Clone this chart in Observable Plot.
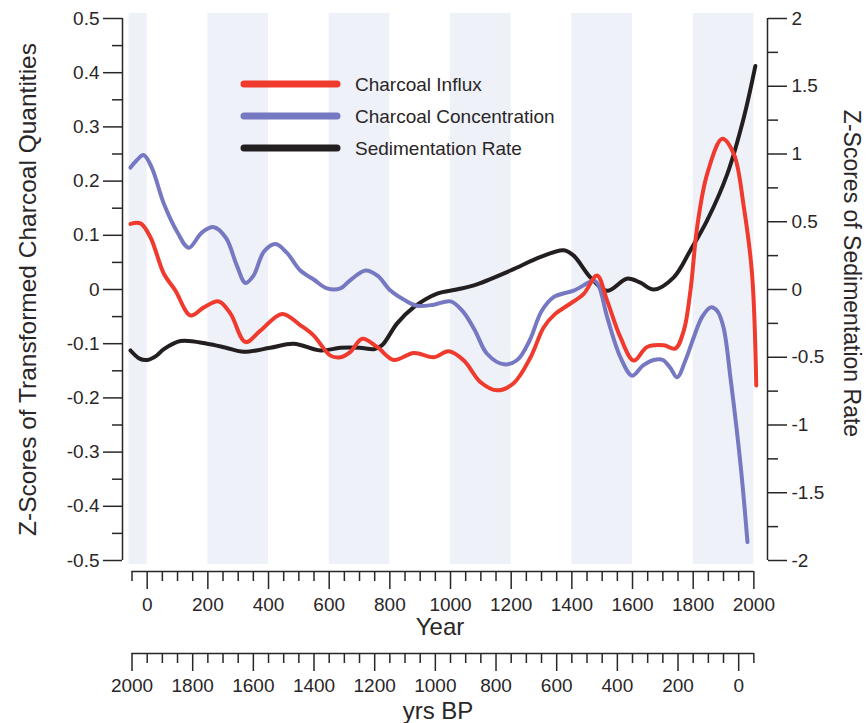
<!DOCTYPE html>
<html>
<head>
<meta charset="utf-8">
<script src="https://cdn.jsdelivr.net/npm/d3@7"></script>
<script src="https://cdn.jsdelivr.net/npm/@observablehq/plot@0.6"></script>
<style>
  body { margin: 0; background: #fff; }
  #chart svg { display: block; }
</style>
</head>
<body>
<div id="chart"></div>
<script>
// Charcoal influx (z-scores of transformed values, left axis)
const influxYears = [-55, -22, 11, 55, 93, 143, 187, 236, 275, 324, 373, 445, 505, 549, 604, 637, 670, 709, 758, 813, 879, 945, 994, 1044, 1099, 1154, 1208, 1264, 1307, 1345, 1384, 1439, 1483, 1516, 1560, 1604, 1648, 1703, 1741, 1769, 1791, 1813, 1846, 1896, 1934, 1967, 1994, 2008];
const influxZ = [0.121, 0.122, 0.096, 0.029, -0.002, -0.048, -0.033, -0.022, -0.045, -0.097, -0.076, -0.045, -0.066, -0.085, -0.122, -0.125, -0.115, -0.091, -0.106, -0.13, -0.117, -0.125, -0.114, -0.131, -0.171, -0.186, -0.173, -0.125, -0.07, -0.045, -0.03, -0.008, 0.026, -0.02, -0.088, -0.131, -0.106, -0.103, -0.109, -0.076, -0.002, 0.115, 0.213, 0.278, 0.25, 0.152, 0.029, -0.177];

// Charcoal concentration (z-scores of transformed values, left axis)
const concYears = [-55, -35, -12, 15, 55, 100, 137, 180, 220, 260, 295, 324, 350, 385, 423, 460, 505, 550, 593, 637, 665, 720, 760, 802, 850, 890, 945, 1000, 1040, 1080, 1121, 1176, 1220, 1260, 1300, 1340, 1406, 1475, 1490, 1516, 1560, 1599, 1635, 1670, 1700, 1725, 1747, 1775, 1802, 1830, 1858, 1880, 1900, 1924, 1957, 1979];
const concZ = [0.225, 0.238, 0.248, 0.225, 0.158, 0.105, 0.077, 0.105, 0.115, 0.095, 0.045, 0.012, 0.025, 0.07, 0.084, 0.068, 0.035, 0.018, 0.002, 0.002, 0.015, 0.035, 0.025, -0.002, -0.02, -0.03, -0.028, -0.022, -0.04, -0.075, -0.119, -0.138, -0.13, -0.095, -0.04, -0.014, -0.002, 0.016, 0.005, -0.05, -0.125, -0.159, -0.14, -0.13, -0.13, -0.145, -0.162, -0.13, -0.088, -0.05, -0.033, -0.04, -0.07, -0.168, -0.328, -0.466];

// Sedimentation rate (z-scores, right axis)
const sedYears = [-55, -25, 0, 30, 55, 110, 198, 260, 318, 406, 483, 571, 637, 700, 750, 775, 824, 879, 956, 1020, 1077, 1198, 1297, 1373, 1406, 1461, 1516, 1582, 1626, 1670, 1736, 1791, 1846, 1912, 1967, 2005];
const sedZ = [-0.45, -0.51, -0.52, -0.49, -0.44, -0.38, -0.40, -0.43, -0.46, -0.43, -0.40, -0.45, -0.43, -0.43, -0.44, -0.41, -0.25, -0.13, -0.03, 0.0, 0.03, 0.14, 0.24, 0.29, 0.25, 0.09, -0.01, 0.08, 0.05, 0.0, 0.09, 0.29, 0.51, 0.85, 1.27, 1.65];

// Shaded 200-year bands
const bandStarts = [-60, 200, 600, 1000, 1400, 1800];
const bandEnds = [0, 400, 800, 1200, 1600, 2000];

// Axis tick values
const leftMajor = d3.range(-5, 6).map(i => i / 10);
const leftMinor = d3.range(-5, 5).map(i => i / 10 + 0.05);
const rightMajor = d3.range(-4, 5).map(i => i / 2);
const rightMinor = d3.range(-4, 4).map(i => i / 2 + 0.25);
const yearMajor = d3.range(0, 2001, 200);
const yearMinor = d3.range(-50, 2001, 50).filter(y => y % 200 !== 0);
const bpMajor = d3.range(0, 2001, 200);
const bpMinor = d3.range(-50, 2001, 50).filter(b => b % 200 !== 0);

const seriesNames = ["Charcoal Influx", "Charcoal Concentration", "Sedimentation Rate"];
const seriesColors = ["#ef3a2d", "#7679c2", "#231f20"];

const SED_RATIO = 4;        // right-axis units per left-axis unit
const BP_ORIGIN = 1950;     // calendar year of 0 yrs BP
const font = "'Liberation Sans', Arial, Helvetica, sans-serif";
const ink = "#2a2627";
const tickFont = 19;

const toRows = (years, values, ratio) => years.map((year, i) => ({year, z: values[i] / ratio}));
const influx = toRows(influxYears, influxZ, 1);
const conc = toRows(concYears, concZ, 1);
const sed = toRows(sedYears, sedZ, SED_RATIO);
const bands = bandStarts.map((s, i) => ({start: s, end: bandEnds[i]}));

const fmt = v => Math.abs(v) < 1e-9 ? "0" : String(+v.toFixed(2));
const blank = () => "";
const xDomain = [-81.4, 2045];

const lineOpts = {x: "year", y: "z", curve: "catmull-rom", strokeWidth: 4, strokeLinecap: "round", strokeLinejoin: "round"};
const titleOpts = {text: d => d, textAnchor: "middle", lineAnchor: "middle", fill: ink};

const chart = Plot.plot({
  width: 867,
  height: 723,
  marginTop: 18,
  marginBottom: 163,
  marginLeft: 122,
  marginRight: 100,
  style: {fontFamily: font, color: ink, background: "#fff"},
  x: {domain: xDomain},
  y: {domain: [-0.5, 0.5]},
  marks: [
    Plot.rect(bands, {x1: "start", x2: "end", fill: "#eff1f8", insetTop: -5, insetBottom: -4}),

    Plot.line(sed, {...lineOpts, stroke: seriesColors[2]}),
    Plot.line(conc, {...lineOpts, stroke: seriesColors[1]}),
    Plot.line(influx, {...lineOpts, stroke: seriesColors[0]}),

    // left axis
    Plot.ruleX([xDomain[0]], {y1: -0.5, y2: 0.5, strokeWidth: 1.5}),
    Plot.axisY({ticks: leftMajor, tickSize: 19, tickPadding: 4, tickFormat: fmt, fontSize: tickFont, strokeWidth: 1.5, label: null}),
    Plot.axisY({ticks: leftMinor, tickSize: 10, tickFormat: blank, strokeWidth: 1.5, label: null}),

    // right axis (sedimentation rate)
    Plot.ruleX([xDomain[1]], {y1: -0.5, y2: 0.5, strokeWidth: 1.5}),
    Plot.axisY({anchor: "right", ticks: rightMajor.map(v => v / SED_RATIO), tickSize: 19, tickPadding: 5, tickFormat: d => fmt(d * SED_RATIO), fontSize: tickFont, strokeWidth: 1.5, label: null}),
    Plot.axisY({anchor: "right", ticks: rightMinor.map(v => v / SED_RATIO), tickSize: 10, tickFormat: blank, strokeWidth: 1.5, label: null}),

    // calendar-year axis
    Plot.ruleY([-0.5], {x1: -50, x2: 2000, dy: 11, strokeWidth: 1.5}),
    Plot.axisX({ticks: yearMajor, tickSize: 18, tickPadding: 8, dy: 11, tickFormat: d => String(d), fontSize: tickFont, strokeWidth: 1.5, label: null}),
    Plot.axisX({ticks: yearMinor, tickSize: 10, dy: 11, tickFormat: blank, strokeWidth: 1.5, label: null}),

    // years-before-present axis
    Plot.ruleY([-0.5], {x1: -50, x2: 2000, dy: 93, strokeWidth: 1.5}),
    Plot.axisX({ticks: bpMajor.map(b => BP_ORIGIN - b), tickSize: 18, tickPadding: 7, dy: 93, tickFormat: y => String(BP_ORIGIN - y), fontSize: tickFont, strokeWidth: 1.5, label: null}),
    Plot.axisX({ticks: bpMinor.map(b => BP_ORIGIN - b), tickSize: 10, dy: 93, tickFormat: blank, strokeWidth: 1.5, label: null}),

    // axis titles
    Plot.text(["Z-Scores of Transformed Charcoal Quantities"], {...titleOpts, frameAnchor: "left", dx: -94, rotate: -90, fontSize: 24.5}),
    Plot.text(["Z-Scores of Sedimentation Rate"], {...titleOpts, frameAnchor: "right", dx: 84, dy: -16, rotate: 90, fontSize: 23}),
    Plot.text(["Year"], {...titleOpts, frameAnchor: "bottom", dx: -5, dy: 67, fontSize: 24}),
    Plot.text(["yrs BP"], {...titleOpts, frameAnchor: "bottom", dx: -7, dy: 151, fontSize: 24})
  ]
});

// legend inside the plot area
const svg = d3.select(chart);
const legend = svg.append("g")
  .attr("font-family", font).attr("font-size", 19).attr("fill", ink)
  .attr("text-anchor", "start");
seriesNames.forEach((name, i) => {
  const y = 84 + i * 32;
  legend.append("line")
    .attr("x1", 244).attr("x2", 337).attr("y1", y).attr("y2", y)
    .attr("stroke", seriesColors[i]).attr("stroke-width", 7).attr("stroke-linecap", "round");
  legend.append("text")
    .attr("x", 355).attr("y", y).attr("dy", "0.35em").text(name);
});

document.getElementById("chart").appendChild(chart);
</script>
</body>
</html>
